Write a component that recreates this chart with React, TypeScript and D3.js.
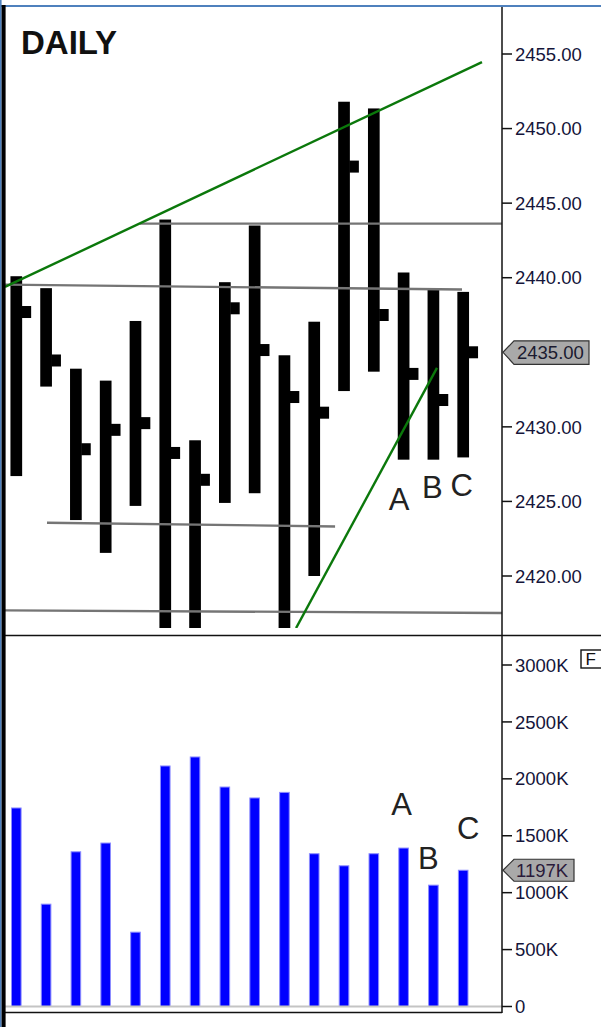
import React from "react";
import * as d3 from "d3";

// ---- data ----
const highs = [2440.1, 2439.3, 2433.9, 2433.1, 2437.1, 2443.9, 2429.1, 2439.7, 2443.5, 2434.8, 2437.05, 2451.8, 2451.35, 2440.35, 2439.2, 2439.05];
const lows = [2426.7, 2432.7, 2423.75, 2421.55, 2424.7, 2415.5, 2415.5, 2424.9, 2425.55, 2415.5, 2420.0, 2432.4, 2433.7, 2427.8, 2427.8, 2427.95];
const closes = [2437.7, 2434.45, 2428.5, 2429.8, 2430.25, 2428.25, 2426.45, 2437.95, 2435.15, 2432.0, 2430.95, 2447.45, 2437.5, 2433.55, 2431.8, 2435.0];
const volumesK = [1744, 899, 1359, 1436, 653, 2113, 2192, 1928, 1832, 1881, 1342, 1236, 1342, 1392, 1066, 1197];
const priceTicks = [2420, 2425, 2430, 2440, 2445, 2450, 2455];
const volumeTicks = [0, 500, 1000, 1500, 2000, 2500, 3000];
const lastPrice = 2435.0;
const lastVolume = 1197;
// trendlines: [barIndex, price]
const grayLines = [
  [[4.15, 2443.63], [16.3, 2443.63]],
  [[-0.38, 2439.54], [14.96, 2439.21]],
  [[1.03, 2423.57], [10.7, 2423.32]],
  [[-0.38, 2417.69], [16.3, 2417.52]],
];
const greenLines = [
  [[-0.38, 2439.38], [15.63, 2454.46]],
  [[9.39, 2416.51], [14.12, 2433.95]],
];
const priceMarks = [
  { text: "A", i: 13, v: 2424.42, dx: -4.6 },
  { text: "B", i: 14, v: 2425.23, dx: -1 },
  { text: "C", i: 15, v: 2425.38, dx: -1.5 },
];
const volumeMarks = [
  { text: "A", i: 13, v: 1682, dx: -2 },
  { text: "B", i: 14, v: 1205, dx: -5 },
  { text: "C", i: 15, v: 1469, dx: 5 },
];

const FONT = "'Liberation Sans', Arial, sans-serif";

export default function App() {
  const W = 601, H = 1027;
  const axisX = 502;
  const plotLeft = 5;
  const sepY = 635.5;
  const x = d3.scaleLinear().domain([0, 15]).range([16.3, 463.2]);
  const yP = d3.scaleLinear().domain([2420, 2455]).range([576, 54]);
  const yV = d3.scaleLinear().domain([0, 3000]).range([1006.5, 665]);
  const line = d3.line<number[]>().x((d) => x(d[0])).y((d) => yP(d[1]));
  const barW = 11.7;
  const volW = 10.6;
  const tickW = 9;
  const tickH = 12;
  const labelColor = "#15153a";
  const fs = 18.5;

  const py = yP(lastPrice);
  const vy = yV(lastVolume);

  return (
    <svg width={W} height={H} style={{ position: "absolute", left: 0, top: 0, background: "#fff" }} fontFamily={FONT}>
      <defs>
        <clipPath id="pclip">
          <rect x={plotLeft} y={7} width={axisX - plotLeft} height={621} />
        </clipPath>
      </defs>
      <rect x={0} y={0} width={W} height={H} fill="#fff" />

      {/* price bars */}
      <g clipPath="url(#pclip)">
        {highs.map((h, i) => (
          <g key={i}>
            <rect x={x(i) - barW / 2} y={yP(h)} width={barW} height={yP(lows[i]) - yP(h)} fill="#000" />
            <rect x={x(i) + barW / 2 - 0.5} y={yP(closes[i]) - tickH / 2} width={tickW + 0.5} height={tickH} fill="#000" />
          </g>
        ))}
        {grayLines.map((l, k) => (
          <path key={"g" + k} d={line(l as any) || ""} stroke="#757575" strokeWidth={2.3} fill="none" />
        ))}
        {greenLines.map((l, k) => (
          <path key={"gr" + k} d={line(l as any) || ""} stroke="#0b780b" strokeWidth={2.4} fill="none" />
        ))}
      </g>

      <text x={21} y={54} fontSize={33} fontWeight="bold" fill="#111">DAILY</text>

      {priceMarks.map((m) => (
        <text key={"pm" + m.text} x={x(m.i) + m.dx} y={yP(m.v)} fontSize={31} fill="#222" textAnchor="middle">{m.text}</text>
      ))}

      {/* volume bars */}
      {volumesK.map((v, i) => (
        <rect key={"v" + i} x={x(i) - volW / 2 + 0.5} y={yV(v)} width={volW - 1} height={yV(0) - yV(v)} fill="#0000ff" stroke="#8c8cff" strokeWidth={1} />
      ))}
      <line x1={plotLeft} x2={axisX} y1={yV(0)} y2={yV(0)} stroke="#c4c4c4" strokeWidth={2} />
      <line x1={plotLeft} x2={axisX} y1={1012.5} y2={1012.5} stroke="#111" strokeWidth={1.5} />

      {volumeMarks.map((m) => (
        <text key={"vm" + m.text} x={x(m.i) + m.dx} y={yV(m.v)} fontSize={31} fill="#222" textAnchor="middle">{m.text}</text>
      ))}

      {/* separators & axis */}
      <line x1={plotLeft} x2={W} y1={sepY} y2={sepY} stroke="#111" strokeWidth={1.5} />
      <line x1={axisX} x2={axisX} y1={7} y2={1013} stroke="#111" strokeWidth={1.5} />

      {priceTicks.map((t) => (
        <g key={"pt" + t}>
          <line x1={axisX} x2={axisX + 10} y1={yP(t)} y2={yP(t)} stroke="#111" strokeWidth={1.5} />
          <text x={axisX + 13} y={yP(t)} dy="0.36em" fontSize={fs} fill={labelColor}>{t.toFixed(2)}</text>
        </g>
      ))}
      {volumeTicks.map((t) => (
        <g key={"vt" + t}>
          <line x1={axisX} x2={axisX + 10} y1={yV(t)} y2={yV(t)} stroke="#111" strokeWidth={1.5} />
          <text x={axisX + 13} y={yV(t)} dy="0.36em" fontSize={fs} fill={labelColor}>{t === 0 ? "0" : `${t}K`}</text>
        </g>
      ))}

      {/* last price box */}
      <path d={`M${axisX + 1},${py} L${axisX + 12},${py - 11.5} L589,${py - 11.5} L589,${py + 12} L${axisX + 12},${py + 12} Z`} fill="#a9a9a9" stroke="#333" strokeWidth={1.2} />
      <text x={axisX + 15} y={py} dy="0.36em" fontSize={fs} fill="#1a1a30">{lastPrice.toFixed(2)}</text>
      <path d={`M${axisX + 1},${vy} L${axisX + 12},${vy - 11} L574,${vy - 11} L574,${vy + 11} L${axisX + 12},${vy + 11} Z`} fill="#a9a9a9" stroke="#333" strokeWidth={1.2} />
      <text x={axisX + 14} y={vy} dy="0.36em" fontSize={fs} fill="#2a1a3a">{lastVolume}K</text>

      {/* F box */}
      <rect x={581} y={650} width={30} height={18} fill="#fff" stroke="#111" strokeWidth={1.4} />
      <text x={585.5} y={665} fontSize={17} fill="#111">F</text>

      {/* frame */}
      <rect x={0} y={5} width={W} height={2} fill="#4f81bd" />
      <rect x={0} y={0} width={1.6} height={H} fill="#4f81bd" />
      <rect x={1.6} y={5} width={4} height={H - 5} fill="#000" />
    </svg>
  );
}
